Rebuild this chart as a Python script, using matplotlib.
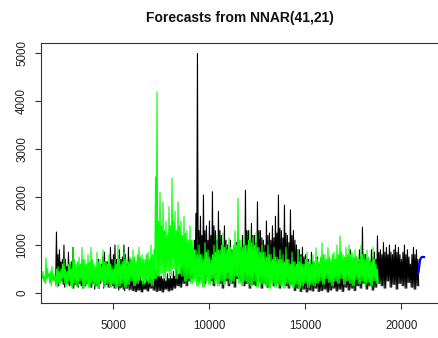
import numpy as np
import matplotlib
matplotlib.use("Agg")
import matplotlib.pyplot as plt

plt.rcParams['font.family'] = ['Liberation Sans', 'DejaVu Sans']

title = "Forecasts from NNAR(41,21)"
x_ticks = [5000, 10000, 15000, 20000]
y_ticks = [0, 1000, 2000, 3000, 4000, 5000]

black_start, black_step = 2000.0, 78.125
black_peaks = [1270, 800, 900, 650, 700, 1000, 700, 550, 850, 600, 650, 950, 600, 450, 500, 350,
               400, 300, 450, 550, 350, 300, 600, 400, 450, 350, 400, 500, 700, 550, 600, 750,
               850, 650, 650, 500, 950, 700, 800, 1000, 700, 600, 900, 700, 750, 1000, 800, 600,
               950, 700, 600, 500, 400, 350, 300, 250, 350, 250, 250, 200, 300, 250, 350, 400,
               350, 300, 500, 400, 450, 350, 350, 300, 300, 250, 400, 300, 350, 300, 450, 350,
               500, 400, 400, 550, 700, 600, 900, 750, 950, 800, 800, 900, 1100, 1660, 4990, 1300,
               1600, 1200, 2040, 1300, 1400, 1100, 1500, 1200, 2110, 1400, 1300, 1100, 1700, 1300, 1200, 1000,
               1400, 1100, 1000, 850, 1100, 900, 900, 800, 1050, 850, 800, 950, 1200, 1000, 2140, 1300,
               1300, 1100, 1450, 1200, 1200, 1050, 1900, 1300, 1300, 1150, 1100, 1000, 1500, 1200, 1250, 1100,
               1400, 1150, 1600, 1250, 2040, 1350, 1300, 1150, 1830, 1250, 1200, 1050, 1730, 1200, 1300, 1100,
               1000, 900, 900, 800, 950, 750, 800, 700, 700, 600, 850, 650, 600, 550, 750, 600,
               500, 450, 600, 500, 450, 400, 700, 500, 500, 450, 400, 500, 600, 450, 500, 600,
               700, 550, 650, 700, 900, 650, 600, 700, 750, 650, 900, 750, 1370, 800, 800, 700,
               700, 650, 900, 750, 850, 700, 1190, 850, 900, 800, 1050, 850, 950, 800, 1000, 850,
               800, 900, 1000, 850, 950, 800, 700, 850, 1000, 800, 900, 750, 600, 800, 950, 800,
               900, 700]
black_troughs = [300, 200, 150, 250, 250, 180, 120, 200, 200, 150, 180, 250, 100, 180, 150, 120,
                 200, 150, 100, 180, 150, 200, 250, 120, 120, 200, 80, 150, 150, 100, 200, 250, 100,
                 150, 180, 120, 120, 200, 150, 100, 100, 150,
                 60, 100, 120, 80, 50, 100, 100, 60, 80, 50, 50, 30, 30, 60, 60, 20, 20, 80, 80, 40,
                 40, 100, 100, 60, 60, 30, 30, 50,
                 50, 20, 20, 80, 80, 40, 40, 60, 60, 100, 100, 150, 150, 120, 120, 200, 200, 150, 150,
                 250, 250, 300, 300, 400,
                 400, 250, 250, 300, 300, 200, 200, 350, 350, 250, 250, 150, 150, 300, 300, 200, 200,
                 100, 100, 250, 250, 150, 150, 200, 200, 120, 120, 300, 300, 250, 250, 150, 150, 200,
                 200, 100, 100, 180, 180, 150,
                 150, 250, 250, 100, 100, 200, 200, 120, 120, 300, 300, 150, 150, 200, 200, 100, 100,
                 250, 250, 150, 150, 100, 100, 200, 200, 50,
                 50, 100, 100, 30, 30, 80, 80, 20, 20, 60, 60, 40, 40, 100, 100, 30, 30, 50, 50, 80,
                 80, 20, 20, 60, 60, 100, 100, 40, 40, 80, 80, 30, 30, 120, 120, 60, 60, 100, 100, 50,
                 50, 150, 150, 100,
                 100, 200, 200, 80, 80, 150, 150, 60, 60, 120, 120, 200, 200, 150, 150, 100, 100, 250,
                 250, 120, 120, 180, 180, 80, 80, 200, 200, 150, 150, 100, 100, 220, 220, 120, 120, 80,
                 80, 150, 150]

# fitted values (green)
green_start, green_step = 1300.0, 78.125
green_peaks = [450, 350, 730, 500, 400, 450, 550, 400, 350, 500, 550, 450, 500, 600, 700, 500,
               450, 600, 650, 500, 950, 700, 600, 650, 750, 600, 950, 700, 700, 600, 800, 650,
               950, 700, 600, 550, 850, 650, 700, 550, 900, 650, 650, 600, 800, 600, 550, 500,
               700, 600, 1000, 700, 600, 650, 850, 700, 700, 650, 750, 700, 900, 750, 650, 800,
               950, 750, 800, 700, 700, 800, 850, 700, 1000, 800, 900, 2420, 4190, 1500, 2100, 1400,
               1900, 1300, 1500, 1200, 1800, 1400, 2390, 1500, 1700, 1300, 1900, 1400, 1500, 1200, 1600, 1250,
               1300, 1100, 1400, 1100, 1100, 900, 900, 800, 1000, 800, 800, 700, 1050, 850, 900, 750,
               700, 800, 1000, 850, 1200, 900, 900, 1000, 1250, 950, 1000, 900, 1150, 950, 900, 1000,
               1300, 1000, 1980, 1100, 1100, 950, 1200, 1000, 1000, 1100, 1300, 1050, 1150, 1000, 1250, 950,
               950, 850, 1000, 850, 850, 750, 1000, 800, 800, 700, 950, 750, 750, 700, 900, 700,
               800, 650, 950, 700, 700, 600, 850, 650, 650, 600, 900, 650, 750, 600, 600, 700,
               850, 650, 700, 600, 800, 650, 940, 700, 650, 750, 1040, 800, 800, 700, 950, 750,
               700, 800, 850, 700, 1000, 800, 1190, 850, 800, 750, 950, 800, 1000, 800, 850, 750,
               900, 750, 750, 700, 1000, 800, 800, 700, 900, 750, 700, 650, 950, 700, 600, 500]
green_troughs = [300, 250, 200, 300, 350, 200, 150, 250, 250, 150, 120, 200, 200, 250, 300, 200,
                 150, 200, 250, 150, 100, 200,
                 200, 150, 150, 250, 250, 100, 100, 180, 180, 120, 120, 200, 200, 150, 150, 100,
                 100, 250, 250, 130, 130, 200, 200, 120, 120, 180, 180, 100, 100, 150,
                 150, 200, 200, 120, 120, 180, 180, 250, 250, 150, 150, 200, 200, 300, 300, 180,
                 180, 250, 250, 200, 200, 150, 150, 300, 300, 350,
                 350, 400, 400, 300, 300, 450, 450, 350, 350, 500, 500, 300, 300, 400, 400, 350,
                 350, 250, 250, 300, 300, 200, 200, 250, 250, 150,
                 150, 200, 200, 120, 120, 250, 250, 180, 180, 300, 300, 200, 200, 150, 150, 250,
                 250, 180, 180, 300, 300, 200, 200, 250, 250, 350, 350, 200, 200, 150, 150, 250,
                 250, 200,
                 200, 150, 150, 250, 250, 120, 120, 200, 200, 180, 180, 150, 150, 100, 100, 200,
                 200, 120, 120, 180, 180, 150, 150, 100, 100, 200, 200, 150, 150, 120, 120, 180,
                 180, 100, 100, 150, 150, 200, 200, 120, 120, 180, 180, 150,
                 150, 200, 200, 250, 250, 180, 180, 300, 300, 220, 220, 150, 150, 250, 250, 200,
                 200, 300, 300, 180, 180, 250, 250, 200, 200, 150, 150, 280, 280, 200, 200, 250,
                 250, 180, 180, 220, 220, 150, 150, 250, 250, 200, 200]

# forecasts (blue)
fc_start, fc_step = 20900.0, 40.0
fc_values = [440, 580, 690, 730, 745, 750, 752, 750]


def interleave(troughs, peaks):
    n = min(len(peaks), len(troughs) - 1)
    seq = []
    for i in range(n):
        seq.append(troughs[i])
        seq.append(peaks[i])
    seq.append(troughs[n])
    return np.array(seq, dtype=float)


black = interleave(black_troughs, black_peaks)
green = interleave(green_troughs, green_peaks)
tb = black_start + np.arange(len(black)) * black_step / 2
tg = green_start + np.arange(len(green)) * green_step / 2
tf = fc_start + np.arange(len(fc_values)) * fc_step

W, H = 438, 338
fig = plt.figure(figsize=(W / 100, H / 100), dpi=100)
left, right, top, bottom = 41.3, 450, 43, 303
ax = fig.add_axes([left / W, (H - bottom) / H, (right - left) / W, (bottom - top) / H])

ax.plot(tb, black, color='black', lw=0.8)
ax.plot(tg, green, color='#00FF00', lw=0.8)
ax.plot(tf, fc_values, color='#0000FF', lw=1.6)

ax.set_xlim(1250, 1250 + (right - left) * 5000 / 96)
ax.set_ylim(-208, 5208)
ax.set_xticks(x_ticks)
ax.set_yticks(y_ticks)
ax.set_xticklabels([str(v) for v in x_ticks])
ax.set_yticklabels([str(v) for v in y_ticks], rotation=90, va='center')
for s in ['left', 'top', 'bottom']:
    ax.spines[s].set_color('#333333')
    ax.spines[s].set_linewidth(0.8)
ax.spines['right'].set_visible(False)
ax.tick_params(direction='out', length=4.5, width=0.8, color='#333333',
               labelsize=8.3, labelcolor='#222222')
ax.tick_params(axis='x', pad=8)
ax.tick_params(axis='y', pad=5)

fig.text(240 / W, 1 - 18 / H, title, ha='center', va='center',
         fontsize=10, fontweight='bold', color='#111111')

fig.savefig('out.png', dpi=100)
